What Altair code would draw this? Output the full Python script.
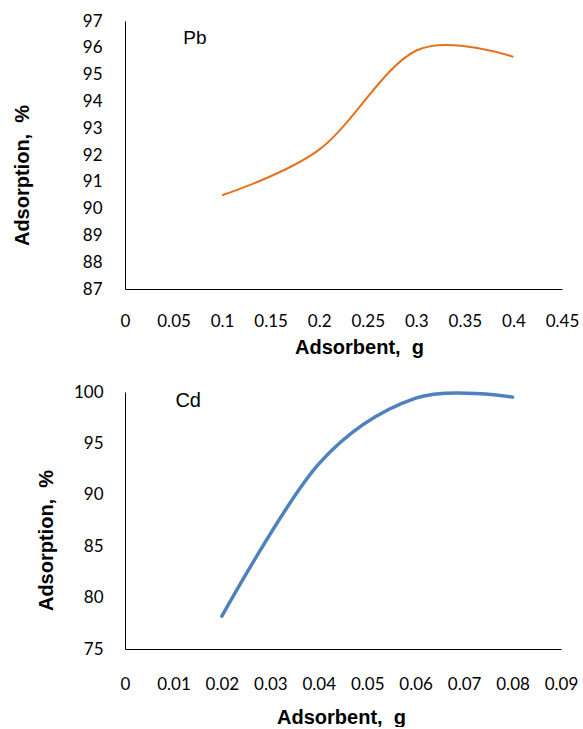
import altair as alt
import pandas as pd

# Pb removal versus adsorbent dose
pb_dose = [0.1, 0.2, 0.3, 0.4]
pb_adsorption = [90.5, 92.2, 95.9, 95.66]

# Cd removal versus adsorbent dose
cd_dose = [0.02, 0.04, 0.06, 0.08]
cd_adsorption = [78.2, 93.0, 99.4, 99.5]

pb_x_ticks = [0, 0.05, 0.1, 0.15, 0.2, 0.25, 0.3, 0.35, 0.4, 0.45]
pb_y_ticks = [87, 88, 89, 90, 91, 92, 93, 94, 95, 96, 97]
cd_x_ticks = [0, 0.01, 0.02, 0.03, 0.04, 0.05, 0.06, 0.07, 0.08, 0.09]
cd_y_ticks = [75, 80, 85, 90, 95, 100]

metal_labels = ["Pb", "Cd"]
label_x = [0.06, 0.0104]
label_y = [96.35, 99.1]

NBSP = "\u00a0"
x_title = "Adsorbent," + NBSP + " g"
y_title = "Adsorption," + NBSP + " %"

TICK_FONT = "Lato"
TITLE_FONT = "Liberation Sans"

pb_df = pd.DataFrame({"dose": pb_dose, "ads": pb_adsorption})
cd_df = pd.DataFrame({"dose": cd_dose, "ads": cd_adsorption})
pb_lab_df = pd.DataFrame({"t": [metal_labels[0]], "dose": [label_x[0]], "ads": [label_y[0]]})
cd_lab_df = pd.DataFrame({"t": [metal_labels[1]], "dose": [label_x[1]], "ads": [label_y[1]]})


def axis_x(ticks, title_x, title_y, pad):
    return alt.Axis(
        values=ticks, format="~r", title=x_title, ticks=False, grid=False,
        labelPadding=pad, labelFont=TICK_FONT, labelFontSize=17,
        labelColor="#000000", labelFlush=False, labelOverlap=False,
        domainColor="#000000", domainWidth=1,
        titleFont=TITLE_FONT, titleFontSize=20, titleFontWeight="bold",
        titleColor="#000000", titleX=title_x, titleY=title_y,
        titleAlign="center", titleBaseline="middle",
    )


def axis_y(ticks, title_x, title_y, pad):
    return alt.Axis(
        values=ticks, format="~r", title=y_title, ticks=False, grid=False,
        labelPadding=pad, labelFont=TICK_FONT, labelFontSize=17,
        labelColor="#000000", labelFlush=False, labelOverlap=False,
        domainColor="#000000", domainWidth=1,
        titleFont=TITLE_FONT, titleFontSize=20, titleFontWeight="bold",
        titleColor="#000000", titleX=title_x, titleY=title_y,
        titleAlign="center", titleBaseline="middle", titleAngle=270,
    )


# Shared position encodings so both layers of a panel use one axis definition
pb_x = alt.X("dose:Q", scale=alt.Scale(domain=[0, 0.45], nice=False),
             axis=axis_x(pb_x_ticks, 234, 58, 24))
pb_y = alt.Y("ads:Q", scale=alt.Scale(domain=[87, 97], nice=False, zero=False),
             axis=axis_y(pb_y_ticks, -103, 154, 23))
cd_x = alt.X("dose:Q", scale=alt.Scale(domain=[0, 0.09], nice=False),
             axis=axis_x(cd_x_ticks, 216, 68, 27))
cd_y = alt.Y("ads:Q", scale=alt.Scale(domain=[75, 100], nice=False, zero=False),
             axis=axis_y(cd_y_ticks, -79, 148, 22))

pb_line = alt.Chart(pb_df).mark_line(
    interpolate="cardinal", tension=0, color="#E6701C", strokeWidth=2
).encode(x=pb_x, y=pb_y)

pb_label = alt.Chart(pb_lab_df).mark_text(
    align="left", baseline="middle", font=TITLE_FONT, fontSize=19, color="#000000"
).encode(x=pb_x, y=pb_y, text="t:N")

cd_line = alt.Chart(cd_df).mark_line(
    interpolate="cardinal", tension=0, color="#4F81BD", strokeWidth=3.5,
    strokeCap="round"
).encode(x=cd_x, y=cd_y)

cd_label = alt.Chart(cd_lab_df).mark_text(
    align="left", baseline="middle", font=TITLE_FONT, fontSize=20, color="#000000"
).encode(x=cd_x, y=cd_y, text="t:N")

top = alt.layer(pb_line, pb_label).properties(width=437, height=268)
bottom = alt.layer(cd_line, cd_label).properties(width=436, height=257)

chart = alt.vconcat(top, bottom, spacing=103, bounds="flush").properties(
    padding={"left": 12, "top": 12, "right": 0, "bottom": 0},
    background="white",
).configure_view(stroke=None)

chart.save("out.html", embed_options={"renderer": "svg", "actions": False})
